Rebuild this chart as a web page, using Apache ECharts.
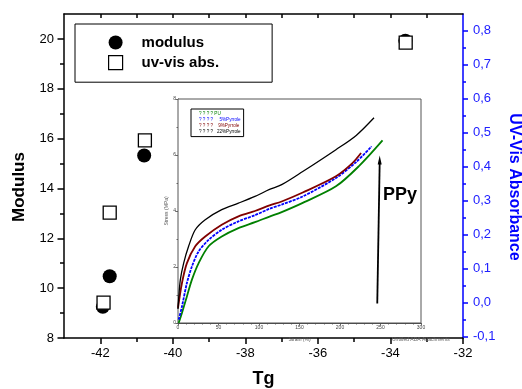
<!DOCTYPE html>
<html>
<head>
<meta charset="utf-8">
<script src="https://cdn.jsdelivr.net/npm/echarts@6/dist/echarts.min.js"></script>
<style>html,body{margin:0;padding:0;background:#fff}#c{width:522px;height:389px}</style>
</head>
<body>
<div id="c"></div>
<script>
// ---- main chart data ----
const modulusX = [-41.93, -41.74, -40.79, -33.59];
const modulusY = [9.25, 10.48, 15.32, 19.93];
const uvX = [-41.91, -41.74, -40.77, -33.58];
const uvY = [0.0, 0.265, 0.477, 0.765];
const xMajorTicks = [-42, -40, -38, -36, -34, -32];
const xMinorTicks = [-41, -39, -37, -35, -33];
const xTopTicks = [-42, -41, -40, -39, -38, -37, -36, -35, -34, -33];
const yMajorTicks = [8, 10, 12, 14, 16, 18, 20];
const yMinorTicks = [9, 11, 13, 15, 17, 19];
const uvMajorTicks = [-0.1, 0, 0.1, 0.2, 0.3, 0.4, 0.5, 0.6, 0.7, 0.8];
const uvMinorTicks = [-0.05, 0.05, 0.15, 0.25, 0.35, 0.45, 0.55, 0.65, 0.75];

// ---- inset (stress-strain) data: [strain %, stress MPa] ----
const insetNames = ['? ? ? ? PU', '? ? ? ?     5%Pyrrole', '? ? ? ?    9%Pyrrole', '? ? ? ?   22%Pyrrole'];
const curvePU = [[0.8,0],[4.9,0.36],[11,0.95],[17.2,1.55],[25.5,2.14],[37.8,2.74],[54,3.09],[74.6,3.39],[95,3.6],[113,3.8],[128,3.96],[154,4.29],[195,4.88],[224,5.62],[252.5,6.52]];
const curve5 = [[0.8,0.12],[4.9,0.59],[11,1.43],[17.2,2.02],[25.5,2.56],[37.8,2.97],[54,3.33],[74.6,3.63],[95,3.85],[113,4.08],[128,4.23],[154,4.52],[195,5.18],[220,5.75],[239,6.31]];
const curve9 = [[0,0.54],[4.9,1.43],[11,2.14],[21.3,2.74],[33.6,3.09],[54,3.51],[74.6,3.81],[95,4.0],[113,4.2],[128,4.34],[154,4.66],[195,5.24],[215,5.7],[226,6.07]];
const curve22 = [[0,0.5],[1,0.95],[2.9,1.55],[7,2.14],[13.1,2.74],[21.3,3.33],[33.6,3.69],[54,4.05],[74.6,4.28],[95,4.52],[113,4.77],[128,4.94],[154,5.41],[195,6.19],[220,6.7],[242,7.33]];
const insetColors = ['#008000', '#0000ff', '#800000', '#000000'];
const arrowFrom = [246, 0.7];
const arrowTo = [249, 5.75];

const FF = '"Liberation Sans", Arial, sans-serif';
const xMin = -43, xMax = -32, yMin = 8, yMax = 21, uvMin = -0.104, uvMax = 0.849;

const chart = echarts.init(document.getElementById('c'), null, {renderer: 'canvas'});
const zip = (a, b) => a.map((v, i) => [v, b[i]]);
const squarePath = 'path://M0,0L10,0L10,10L0,10Z';

const option = {
  animation: false,
  textStyle: {fontFamily: FF},
  grid: [
    {left: 64, right: 59, top: 14, bottom: 51, show: false, outerBoundsMode: 'none', containLabel: false},
    {left: 178, right: 101, top: 99, bottom: 66, show: true, backgroundColor: '#fff', borderColor: '#555', borderWidth: 1, z: 3, outerBoundsMode: 'none', containLabel: false}
  ],
  legend: [
    {
      orient: 'vertical', left: 75, top: 24,
      padding: [11, 53, 12, 33], itemGap: 5, itemWidth: 42, itemHeight: 14,
      borderColor: '#000', borderWidth: 1,
      textStyle: {fontFamily: FF, fontSize: 15, fontWeight: 'bold', color: '#000'},
      data: [
        {name: 'modulus', icon: 'circle'},
        {name: 'uv-vis abs.', icon: squarePath, itemStyle: {color: '#fff', borderColor: '#000', borderWidth: 1.2}}
      ]
    },
    {
      orient: 'vertical', left: 191, top: 109, z: 6,
      padding: [2, 3, 2, 2], itemGap: 1.2, itemWidth: 1, itemHeight: 5, icon: 'none',
      borderColor: '#000', borderWidth: 1, backgroundColor: '#fff',
      textStyle: {fontFamily: FF, fontSize: 4.6},
      data: insetNames.map((n, i) => ({name: n, textStyle: {color: insetColors[i]}}))
    }
  ],
  xAxis: [
    {
      type: 'value', gridIndex: 0, position: 'bottom', min: xMin, max: xMax,
      axisLine: {onZero: false, lineStyle: {color: '#000', width: 1.5}},
      axisTick: {customValues: xMajorTicks, length: 6, lineStyle: {color: '#000', width: 1.5}},
      axisLabel: {customValues: xMajorTicks, fontSize: 13, color: '#000', margin: 9, fontFamily: FF},
      splitLine: {show: false},
      name: 'Tg', nameLocation: 'middle', nameGap: 32,
      nameTextStyle: {fontSize: 18, fontWeight: 'bold', color: '#000', fontFamily: FF}
    },
    {
      type: 'value', gridIndex: 0, position: 'bottom', min: xMin, max: xMax,
      axisLine: {show: false, onZero: false},
      axisTick: {customValues: xMinorTicks, length: 4, lineStyle: {color: '#000', width: 1.5}},
      axisLabel: {show: false}, splitLine: {show: false}
    },
    {
      type: 'value', gridIndex: 0, position: 'top', min: xMin, max: xMax,
      axisLine: {onZero: false, lineStyle: {color: '#000', width: 1.5}},
      axisTick: {inside: true, customValues: xTopTicks, length: 4, lineStyle: {color: '#000', width: 1.5}},
      axisLabel: {show: false}, splitLine: {show: false}
    },
    {
      type: 'value', gridIndex: 1, min: 0, max: 300, interval: 50,
      axisLine: {onZero: false, lineStyle: {color: '#444', width: 1}},
      axisTick: {length: 2.5, lineStyle: {color: '#444', width: 0.8}},
      minorTick: {show: true, splitNumber: 5, length: 1.5, lineStyle: {color: '#444', width: 0.8}},
      axisLabel: {fontSize: 5, color: '#444', margin: 2, fontFamily: FF},
      splitLine: {show: false},
      name: 'Strain (%)', nameLocation: 'middle', nameGap: 14,
      nameTextStyle: {fontSize: 5, color: '#555', fontFamily: FF}
    }
  ],
  yAxis: [
    {
      type: 'value', gridIndex: 0, position: 'left', min: yMin, max: yMax,
      axisLine: {onZero: false, lineStyle: {color: '#000', width: 1.5}},
      axisTick: {customValues: yMajorTicks, length: 6.5, lineStyle: {color: '#000', width: 1.5}},
      axisLabel: {customValues: yMajorTicks, fontSize: 13, color: '#000', margin: 10, fontFamily: FF},
      splitLine: {show: false},
      name: 'Modulus', nameLocation: 'middle', nameGap: 36,
      nameTextStyle: {fontSize: 17, fontWeight: 'bold', color: '#000', fontFamily: FF, padding: [0, 22, 0, 0]}
    },
    {
      type: 'value', gridIndex: 0, position: 'right', min: uvMin, max: uvMax,
      axisLine: {show: true, onZero: false, lineStyle: {color: '#0000ff', width: 1.5}},
      axisTick: {show: true, customValues: uvMajorTicks, length: 5, lineStyle: {color: '#0000ff', width: 1.5}},
      axisLabel: {customValues: uvMajorTicks, fontSize: 13, color: '#2020ff', margin: 10, fontFamily: FF,
        formatter: v => (Math.round(v * 10) / 10).toFixed(1).replace('.', ',')},
      splitLine: {show: false},
      name: 'UV-Vis Absorbance', nameLocation: 'middle', nameGap: 41, nameRotate: -90,
      nameTextStyle: {fontSize: 16, fontWeight: 'bold', color: '#0000ff', fontFamily: FF, padding: [0, 0, 0, 22]}
    },
    {
      type: 'value', gridIndex: 0, position: 'left', min: yMin, max: yMax,
      axisLine: {show: false, onZero: false},
      axisTick: {customValues: yMinorTicks, length: 4, lineStyle: {color: '#000', width: 1.5}},
      axisLabel: {show: false}, splitLine: {show: false}
    },
    {
      type: 'value', gridIndex: 0, position: 'right', min: uvMin, max: uvMax,
      axisLine: {show: false, onZero: false},
      axisTick: {show: true, customValues: uvMinorTicks, length: 3, lineStyle: {color: '#0000ff', width: 1.5}},
      axisLabel: {show: false}, splitLine: {show: false}
    },
    {
      type: 'value', gridIndex: 1, min: 0, max: 8, interval: 2,
      axisLine: {show: true, onZero: false, lineStyle: {color: '#444', width: 1}},
      axisTick: {show: true, length: 2.5, lineStyle: {color: '#444', width: 0.8}},
      minorTick: {show: true, splitNumber: 2, length: 1.5, lineStyle: {color: '#444', width: 0.8}},
      axisLabel: {fontSize: 5, color: '#444', margin: 2, fontFamily: FF},
      splitLine: {show: false},
      name: 'Stress (MPa)', nameLocation: 'middle', nameGap: 8,
      nameTextStyle: {fontSize: 5, color: '#555', fontFamily: FF}
    }
  ],
  series: [
    {
      name: 'modulus', type: 'scatter', xAxisIndex: 0, yAxisIndex: 0,
      symbol: 'circle', symbolSize: 14, itemStyle: {color: '#000', opacity: 1}, z: 2,
      data: zip(modulusX, modulusY)
    },
    {
      name: 'uv-vis abs.', type: 'scatter', xAxisIndex: 0, yAxisIndex: 1,
      symbol: 'rect', symbolSize: 13, z: 3,
      itemStyle: {color: '#fff', borderColor: '#000', borderWidth: 1.3, opacity: 1},
      data: zip(uvX, uvY)
    },
    ...[curvePU, curve5, curve9, curve22].map((d, i) => ({
      name: insetNames[i], type: 'line', xAxisIndex: 3, yAxisIndex: 4,
      data: d, showSymbol: false, smooth: 0.3, z: 5,
      lineStyle: {color: insetColors[i], width: i === 3 ? 1.3 : 1.8, type: i === 1 ? [3, 1] : 'solid'},
      itemStyle: {color: insetColors[i]}
    })),
    {
      name: 'PPy arrow', type: 'line', xAxisIndex: 3, yAxisIndex: 4, z: 6,
      silent: true, legendHoverLink: false, showSymbol: true,
      lineStyle: {color: '#000', width: 1.8},
      itemStyle: {color: '#000'},
      data: [
        {value: arrowFrom, symbol: 'none'},
        {value: arrowTo, symbol: 'triangle', symbolSize: [4, 9], symbolOffset: [0, -2]}
      ]
    }
  ],
  graphic: [
    {type: 'text', left: 383, top: 186, z: 10,
      style: {text: 'PPy', font: 'bold 18px ' + FF, fill: '#000'}},
    {type: 'text', left: 392, top: 337, z: 10,
      style: {text: 'Untitled ADA Attachments', font: '5px ' + FF, fill: '#666'}}
  ]
};
chart.setOption(option);
</script>
</body>
</html>
